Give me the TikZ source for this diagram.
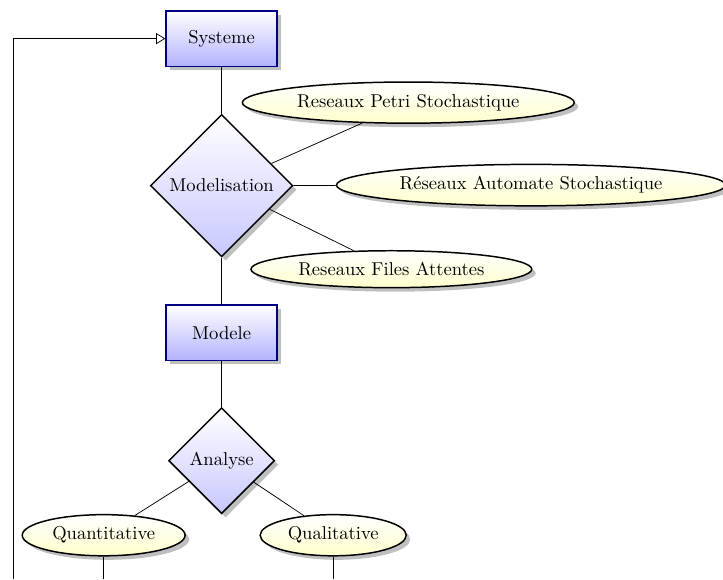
\documentclass[tikz,border=0pt]{standalone}
\usepackage{amsmath}
\usepackage{amsfonts}
\usepackage{tikz}
\usetikzlibrary{shapes.geometric,shadows,arrows.meta}

\begin{document}
\begin{tikzpicture}[auto,
    bloc/.style ={rectangle, draw=blue!50!black, thick, top color=white, bottom color=blue!30,
      minimum width=2.1cm, minimum height=1.05cm, drop shadow},
    choix/.style ={diamond, aspect=1, draw, thick, top color=white, bottom color=blue!22, drop shadow},
    methode/.style ={ellipse, draw, thick, top color=white, bottom color=yellow!20, drop shadow}]
   \useasboundingbox (0,0) rectangle (13.67,-10.95);
   \node[bloc] (Sys)  at (4.19,-0.73)  {Systeme};
   \node[choix] (Modl)  at (4.19,-3.51)  {Modelisation};
   \node[methode] (Petri)  at (7.72,-1.94)  {Reseaux Petri Stochastique};
   \node[methode] (Auto)  at (10.04,-3.50)  {R\'eseaux Automate Stochastique};
   \node[methode] (Files)  at (7.40,-5.09)  {Reseaux Files Attentes};
   \node[bloc] (Mod)  at (4.19,-6.29)  {Modele};
   \node[choix] (Ana)  at (4.19,-8.71)  {Analyse};
   \node[methode] (Quant)  at (1.96,-10.12)  {Quantitative};
   \node[methode] (Qual)  at (6.30,-10.12)  {Qualitative};

   \coordinate (Boucle) at (0.25,-10.95);
   \coordinate (QuantB) at (Quant |- Boucle);
   \coordinate (QualB) at (Qual |- Boucle);

   \draw (Sys) to (Modl);
   \draw (Modl) to (Petri);
   \draw (Modl) to (Auto);
   \draw (Modl) to (Files);
   \draw (Modl) to (Mod);
   \draw (Mod) to (Ana);
   \draw (Ana) to (Quant);
   \draw (Ana) to (Qual);
   \draw (Quant) to (QuantB);
   \draw (Qual) to (QualB);
   \draw[-{Triangle[open,length=5pt,width=6pt]}] (Boucle) |- (Sys.west);

 \end{tikzpicture}
\end{document}
